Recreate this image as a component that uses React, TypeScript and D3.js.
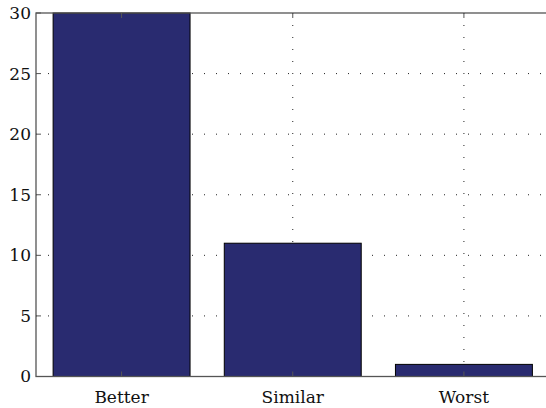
import React, { useEffect, useRef } from 'react';
import * as d3 from 'd3';

const categories = ['Better', 'Similar', 'Worst'];
const counts = [30, 11, 1];
const yTicks = [0, 5, 10, 15, 20, 25, 30];

export default function App() {
  const ref = useRef<SVGSVGElement>(null);

  useEffect(() => {
    const svg = d3.select(ref.current);
    svg.selectAll('*').remove();

    const left = 36, top = 13, bottom = 376.5, right = 549.5;
    const font = "'DejaVu Serif', serif";

    // MATLAB style: categories at 1..3, xlim [0.5, 3.5]
    const x = d3.scaleLinear().domain([0.5, 3.5]).range([left, right]);
    const y = d3.scaleLinear().domain([0, 30]).range([bottom, top]);
    const barW = x(1.4) - x(0.6);

    const grid = svg.append('g');
    // horizontal grid
    yTicks.slice(1, -1).forEach((t) => {
      grid.append('line')
        .attr('x1', left).attr('x2', right)
        .attr('y1', y(t)).attr('y2', y(t))
        .attr('stroke', '#222')
        .attr('stroke-width', 1)
        .attr('stroke-dasharray', '1,11');
    });
    // vertical grid
    categories.forEach((c, i) => {
      grid.append('line')
        .attr('x1', x(i + 1)).attr('x2', x(i + 1))
        .attr('y1', top).attr('y2', bottom)
        .attr('stroke', '#222')
        .attr('stroke-width', 1)
        .attr('stroke-dasharray', '1,11');
    });

    // bars
    svg.append('g')
      .selectAll('rect')
      .data(counts)
      .enter()
      .append('rect')
      .attr('x', (d, i) => x(i + 1) - barW / 2)
      .attr('y', (d) => y(d))
      .attr('width', barW)
      .attr('height', (d) => y(0) - y(d))
      .attr('fill', '#292b70')
      .attr('stroke', '#000')
      .attr('stroke-width', 1);

    // box
    const axisColor = '#555';
    svg.append('rect')
      .attr('x', left).attr('y', top)
      .attr('width', right - left).attr('height', bottom - top)
      .attr('fill', 'none')
      .attr('stroke', axisColor)
      .attr('stroke-width', 1.3);

    // y ticks (inward) and labels
    yTicks.forEach((t) => {
      svg.append('line')
        .attr('x1', left).attr('x2', left + 5)
        .attr('y1', y(t)).attr('y2', y(t))
        .attr('stroke', axisColor);
      svg.append('text')
        .attr('x', left - 5)
        .attr('y', y(t))
        .attr('dy', '0.35em')
        .attr('text-anchor', 'end')
        .style('font-family', font)
        .style('font-size', '17px')
        .attr('fill', '#111')
        .text(t);
    });

    // x ticks (inward, top and bottom) and labels
    categories.forEach((c, i) => {
      svg.append('line')
        .attr('x1', x(i + 1)).attr('x2', x(i + 1))
        .attr('y1', bottom).attr('y2', bottom - 5)
        .attr('stroke', axisColor);
      svg.append('line')
        .attr('x1', x(i + 1)).attr('x2', x(i + 1))
        .attr('y1', top).attr('y2', top + 5)
        .attr('stroke', axisColor);
      svg.append('text')
        .attr('x', x(i + 1))
        .attr('y', 403)
        .attr('text-anchor', 'middle')
        .style('font-family', font)
        .style('font-size', '17px')
        .attr('fill', '#111')
        .text(c);
    });
  }, []);

  return (
    <svg
      ref={ref}
      width={546}
      height={408}
      style={{ position: 'absolute', left: 0, top: 0, background: '#fff' }}
    />
  );
}
